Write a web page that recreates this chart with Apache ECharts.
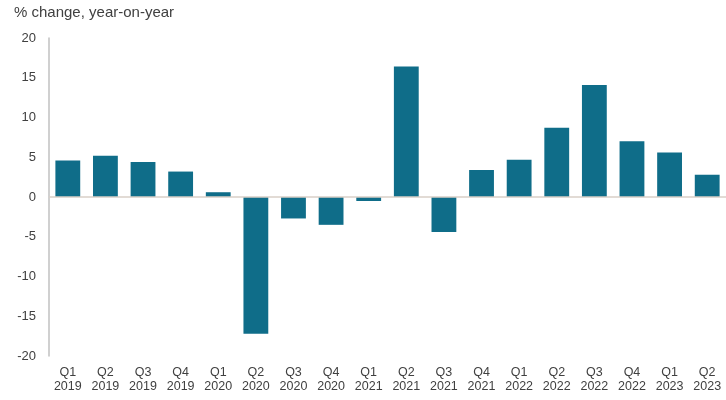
<!DOCTYPE html>
<html>
<head>
<meta charset="utf-8">
<script src="https://cdn.jsdelivr.net/npm/echarts@6/dist/echarts.min.js"></script>
<style>html,body{margin:0;padding:0;background:#fff}#c{width:726px;height:400px}</style>
</head>
<body>
<div id="c"></div>
<script>
const categories = ["Q1\n2019","Q2\n2019","Q3\n2019","Q4\n2019","Q1\n2020","Q2\n2020","Q3\n2020","Q4\n2020","Q1\n2021","Q2\n2021","Q3\n2021","Q4\n2021","Q1\n2022","Q2\n2022","Q3\n2022","Q4\n2022","Q1\n2023","Q2\n2023"];
const values = [4.6, 5.2, 4.4, 3.2, 0.6, -17.2, -2.7, -3.5, -0.5, 16.4, -4.4, 3.4, 4.7, 8.7, 14.1, 7.0, 5.6, 2.8];
const yTicks = [-20, -15, -10, -5, 0, 5, 10, 15, 20];
const titleText = "% change, year-on-year";

const chart = echarts.init(document.getElementById('c'), null, {renderer: 'canvas'});
chart.setOption({
  animation: false,
  backgroundColor: '#ffffff',
  title: {
    text: titleText, left: 14, top: 5, padding: 0,
    textStyle: {fontFamily: 'Liberation Sans, Arial, sans-serif', fontSize: 15, fontWeight: 'normal', color: '#404040'}
  },
  grid: {left: 49, top: 38, width: 682, height: 318, containLabel: false},
  xAxis: {
    type: 'category', data: categories, position: 'bottom',
    axisLine: {show: false, onZero: false},
    axisTick: {show: false},
    axisLabel: {interval: 0, margin: 10, color: '#404040', fontSize: 12.5, lineHeight: 14,
      fontFamily: 'Liberation Sans, Arial, sans-serif'}
  },
  yAxis: {
    type: 'value', min: yTicks[0], max: yTicks[yTicks.length-1], interval: 5,
    axisLine: {show: true, lineStyle: {color: '#c0c0c0', width: 1.5}},
    axisTick: {show: false},
    splitLine: {show: false},
    axisLabel: {margin: 13, color: '#404040', fontSize: 13, fontFamily: 'Liberation Sans, Arial, sans-serif'}
  },
  series: [{
    type: 'bar', data: values, barWidth: '66%',
    itemStyle: {color: '#0f6d89'},
    markLine: {
      silent: true, symbol: 'none', label: {show: false},
      lineStyle: {color: '#d9cfc7', width: 1.5, type: 'solid'},
      data: [{yAxis: 0}]
    },
    z: 3
  }]
});
</script>
</body>
</html>
